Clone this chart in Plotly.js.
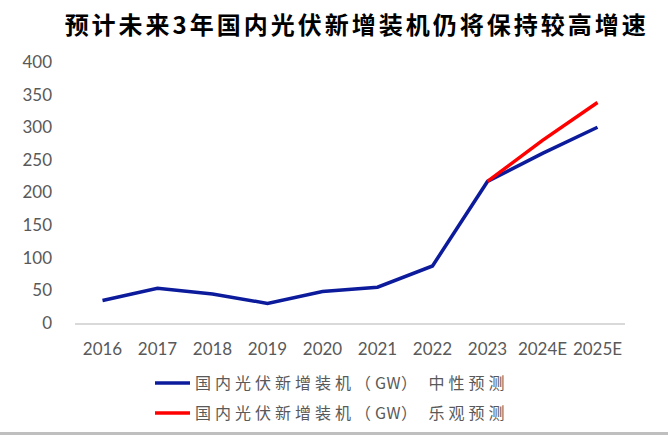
<!DOCTYPE html>
<html>
<head>
<meta charset="utf-8">
<script src="https://cdn.plot.ly/plotly-3.0.1.min.js"></script>
<style>
  html, body { margin: 0; padding: 0; background: #ffffff; overflow: hidden; }
  #wrap { width: 668px; height: 435px; position: relative; overflow: hidden; }
  #chart { width: 668px; height: 455px; position: absolute; left: 0; top: 0; }
  #bar { position: absolute; left: 0; top: 432px; width: 668px; height: 3px; background: #bfbfbf; }
  .gtitle { letter-spacing: 3px; }
  .legendtext, .legend2text { letter-spacing: 4px; }
</style>
</head>
<body>
<div id="wrap">
  <div id="chart"></div>
  <div id="bar"></div>
</div>
<script>
  const categories = ['2016', '2017', '2018', '2019', '2020', '2021', '2022', '2023', '2024E', '2025E'];
  const neutralForecast = [34.5, 53.1, 44.3, 30.1, 48.2, 54.9, 87.4, 216.9, 260, 300];
  const optimisticForecast = [null, null, null, null, null, null, null, 216.9, 280, 338];
  const seriesNames = [
    '国内光伏新增装机（<span style="letter-spacing:0.5px">GW</span>） 中性预测',
    '国内光伏新增装机（<span style="letter-spacing:0.5px">GW</span>） 乐观预测'
  ];
  const chartTitle = '预计未来3年国内光伏新增装机仍将保持较高增速';

  const traces = [
    {
      type: 'scatter', mode: 'lines', x: categories, y: neutralForecast,
      name: seriesNames[0], line: { color: '#0c1b9b', width: 3.5 },
      legend: 'legend', hoverinfo: 'skip'
    },
    {
      type: 'scatter', mode: 'lines', x: categories, y: optimisticForecast,
      name: seriesNames[1], line: { color: '#ff0000', width: 3.5 },
      legend: 'legend2', hoverinfo: 'skip'
    }
  ];

  const tickFont = { family: 'Lato, "Open Sans", sans-serif', size: 17, color: '#595959' };
  const legendFont = { family: '"Noto Sans CJK SC", sans-serif', size: 16, color: '#595959' };

  const H = 455;
  const plotH = 323 - 62;

  const layout = {
    width: 668, height: H,
    margin: { l: 75, r: 43, t: 62, b: H - 323 },
    paper_bgcolor: '#ffffff', plot_bgcolor: '#ffffff',
    title: {
      text: chartTitle,
      font: { family: '"Noto Sans CJK SC", sans-serif', size: 24, color: '#000000', weight: 'bold' },
      x: 0.534, xanchor: 'center', y: 1 - 26 / H, yanchor: 'middle', xref: 'container', yref: 'container'
    },
    xaxis: {
      type: 'category', range: [-0.5, 9.5],
      showline: true, linecolor: '#d9d9d9', linewidth: 1.5,
      showgrid: false, zeroline: false, ticks: '',
      tickfont: tickFont, ticklabelstandoff: 10, fixedrange: true
    },
    yaxis: {
      range: [0, 400], dtick: 50, tick0: 0,
      showline: false, showgrid: false, zeroline: false, ticks: '',
      tickfont: tickFont, ticklabelstandoff: 22, fixedrange: true
    },
    showlegend: true,
    legend: {
      x: (150 - 75) / 550, xanchor: 'left', y: (323 - 383) / plotH, yanchor: 'middle',
      itemwidth: 35,
      font: legendFont, bgcolor: 'rgba(0,0,0,0)', borderwidth: 0
    },
    legend2: {
      x: (150 - 75) / 550, xanchor: 'left', y: (323 - 413) / plotH, yanchor: 'middle',
      itemwidth: 35,
      font: legendFont, bgcolor: 'rgba(0,0,0,0)', borderwidth: 0
    }
  };

  Plotly.newPlot('chart', traces, layout, { displayModeBar: false, staticPlot: true });
</script>
</body>
</html>
